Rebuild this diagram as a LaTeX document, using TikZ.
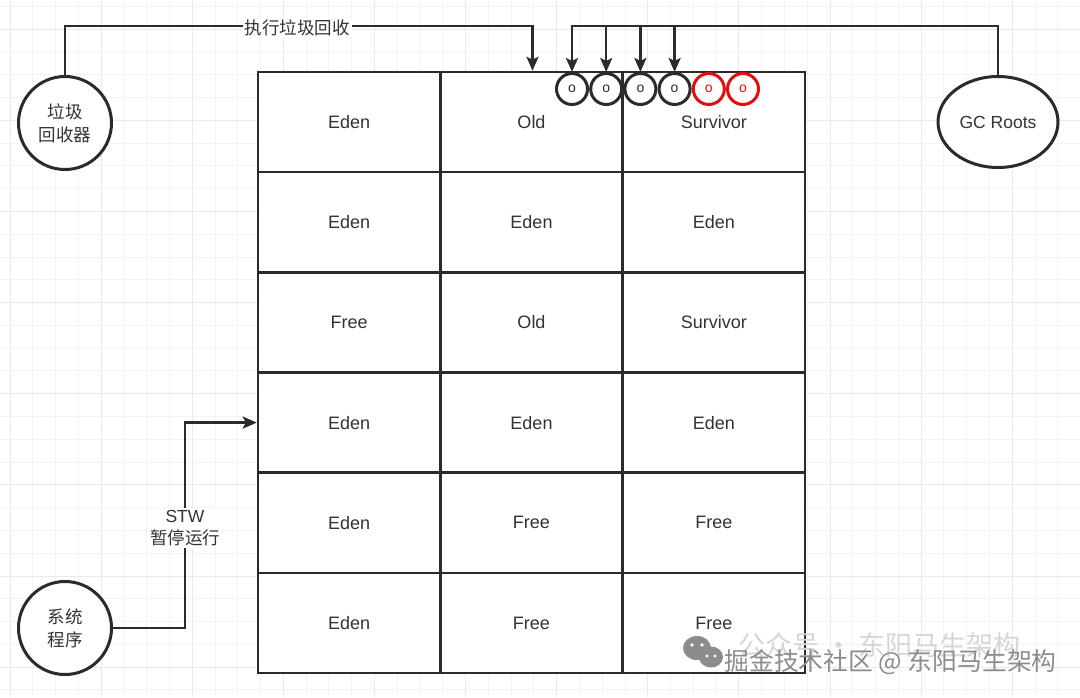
\documentclass[tikz,border=0pt]{standalone}
\usepackage{fontspec}
\setmainfont{Liberation Sans}
\newfontfamily\cjk{Noto Sans CJK SC}
\usetikzlibrary{arrows.meta,shapes.geometric}
\definecolor{ink}{HTML}{2B2B2B}
\definecolor{txt}{HTML}{333333}
\definecolor{gcred}{RGB}{226,14,14}
\definecolor{gminor}{HTML}{F3F3F3}
\definecolor{gmajor}{HTML}{EAEAEA}
\definecolor{wmfade}{HTML}{D6D6D6}
\definecolor{wm}{HTML}{8C8C8C}
\begin{document}
\begin{tikzpicture}[x=1pt,y=-1pt,
  minorgrid/.style={draw=gminor,line width=1pt},
  majorgrid/.style={draw=gmajor,line width=1pt},
  cell/.style={draw=ink,line width=2.5pt,fill=white,minimum width=182.33pt,minimum height=100.17pt,inner sep=0pt,text=txt,font=\fontsize{18}{21}\selectfont},
  obj/.style={circle,draw=#1,line width=3pt,fill=white,minimum size=31pt,inner sep=0pt,text=#1,font=\fontsize{14}{14}\selectfont},
  actor/.style={circle,draw=ink,line width=3pt,fill=white,minimum size=93pt,inner sep=0pt,align=center,text=txt,font=\cjk\fontsize{17.5}{23.3}\selectfont},
  conn/.style={draw=ink,line width=2.5pt},
  arr/.style={-{Stealth[length=14pt,width=12pt,inset=3pt]}},
  lbl/.style={fill=white,inner sep=2pt,text=txt,align=center,font=\fontsize{17.5}{21.6}\selectfont},
]
\useasboundingbox (0,0) rectangle (1080,697);
\fill[white] (0,0) rectangle (1080,697);
% grid
\foreach \k in {0,...,47} \draw[minorgrid] ({10+22.78*\k},0) -- ++(0,697);
\foreach \k in {0,...,30} \draw[minorgrid] (0,{6.5+22.78*\k}) -- ++(1080,0);
\foreach \k in {0,4,...,44} \draw[majorgrid] ({10+22.78*\k},0) -- ++(0,697);
\foreach \k in {1,5,...,29} \draw[majorgrid] (0,{6.5+22.78*\k}) -- ++(1080,0);

% heap regions
\foreach [count=\i] \a/\b/\c in {Eden/Old/Survivor,Eden/Eden/Eden,Free/Old/Survivor,Eden/Eden/Eden,Eden/Free/Free,Eden/Free/Free}{
  \node[cell] (r\i-1) at (349.17,{72+100.17*(\i-0.5)}) {\a};
  \node[cell] (r\i-2) at (531.5,{72+100.17*(\i-0.5)}) {\b};
  \node[cell] (r\i-3) at (713.83,{72+100.17*(\i-0.5)}) {\c};
}

% objects
\foreach [count=\j] \x/\col in {572/ink,606.2/ink,640.4/ink,674.6/ink,708.8/gcred,743/gcred}
  \node[obj=\col] (o\j) at (\x,89) {o};

% actors
\node[actor] (gcol) at (65,123) {垃圾\\回收器};
\node[actor] (sys) at (65,628) {系统\\程序};
\node[ellipse,draw=ink,line width=3pt,fill=white,minimum width=120pt,minimum height=91pt,inner sep=0pt,text=txt,font=\fontsize{17.5}{20}\selectfont] (gc) at (998,122) {GC Roots};

% connectors
\coordinate (k1) at (532.5,26);
\draw[conn,arr] (gcol.north) |- (k1) -- (k1 |- r1-2.north);
\node[lbl] (l1) at (297,28) {\cjk 执行垃圾回收};

\draw[conn,arr] (gc.north) |- (o1.north |- k1) -- (o1.north);
\foreach \j in {2,3,4} \draw[conn,arr] (o\j.north |- k1) -- (o\j.north);

\coordinate (sx) at (185,500);
\draw[conn,arr] (sys.east) -| (sx) |- (r4-1.west);
\node[lbl] (l2) at (185,528) {STW\\{\cjk 暂停运行}};

% watermark
\node[text=wmfade,font=\cjk\fontsize{27}{27}\selectfont,anchor=west] (wm1) at (735,645) {公众号 · 东阳马生架构};
\fill[wm] (697,648) ellipse (14pt and 12pt);
\fill[wm] (711,657) ellipse (12pt and 10.5pt);
\fill[white] (692,645) circle (1.8pt) (702,645) circle (1.8pt) (707,656) circle (1.6pt) (715,656) circle (1.6pt);
\node[text=wm,font=\cjk\fontsize{24.8}{24.8}\selectfont,anchor=west] (wm2) at (721,662) {掘金技术社区 @ 东阳马生架构};
\end{tikzpicture}
\end{document}
